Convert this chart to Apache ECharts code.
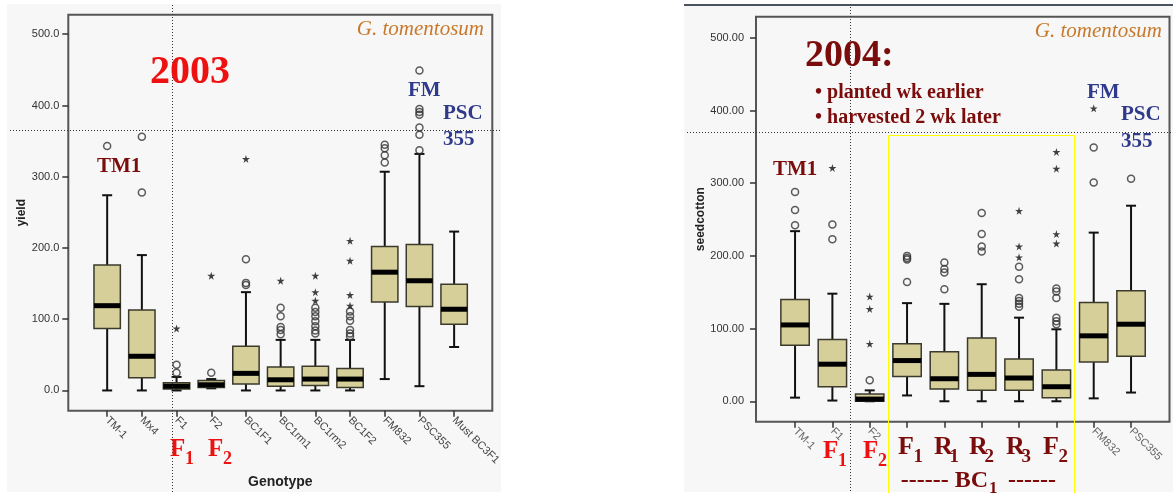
<!DOCTYPE html>
<html>
<head>
<meta charset="utf-8">
<script src="https://cdn.jsdelivr.net/npm/echarts@6/dist/echarts.min.js"></script>
<style>
  html, body { margin: 0; padding: 0; background: #fff; }
  #chart { width: 1173px; height: 493px; }
</style>
</head>
<body>
<div id="chart"></div>
<script>
// 2003 field, yield
var cats03 = ['TM-1', 'Mx4', 'F1', 'F2', 'BC1F1', 'BC1rm1', 'BC1rm2', 'BC1F2', 'FM832', 'PSC355', 'Must BC3F1'];
// [min, q1, median, q3, max]
var box03 = [
    [0, 87, 119, 176, 274],
    [0, 18, 48, 113, 190],
    [0, 2, 6, 11, 19],
    [3, 4, 8, 14, 16],
    [0, 9, 24, 62, 138],
    [0, 6, 15, 33, 71],
    [0, 7, 16, 34, 71],
    [0, 4, 16, 31, 71],
    [16, 124, 166, 202, 307],
    [6, 118, 154, 205, 332],
    [61, 93, 114, 149, 223]
];
var circles03 = [
    [0, 343], [1, 356], [1, 278], [2, 36], [2, 25], [3, 25],
    [4, 184], [4, 151], [4, 148],
    [5, 116], [5, 104], [5, 89], [5, 85], [5, 79],
    [6, 116], [6, 110], [6, 104], [6, 97], [6, 90], [6, 84], [6, 80],
    [7, 111], [7, 104], [7, 98], [7, 85], [7, 80], [7, 76],
    [8, 345], [8, 340], [8, 330], [8, 320],
    [9, 449], [9, 395], [9, 391], [9, 387], [9, 369], [9, 359], [9, 337]
];
var stars03 = [[2, 87], [3, 161], [4, 325], [5, 154], [6, 161], [6, 138], [6, 126], [7, 210], [7, 182], [7, 134], [7, 119]];

// 2004 field, seedcotton
var cats04 = ['TM-1', 'F1', 'F2', '', '', '', '', '', 'FM832', 'PSC355'];
var box04 = [
    [5, 77, 105, 140, 234],
    [1, 20, 51, 85, 148],
    [0, 0, 3, 10, 15],
    [8, 34, 56, 79, 135],
    [0, 17, 31, 68, 134],
    [0, 15, 37, 87, 161],
    [0, 15, 32, 58, 115],
    [0, 5, 20, 43, 99],
    [4, 54, 90, 136, 232],
    [12, 62, 106, 152, 269]
];
var circles04 = [
    [0, 288], [0, 263], [0, 242], [1, 243], [1, 223], [2, 29],
    [3, 200], [3, 197], [3, 195], [3, 164],
    [4, 191], [4, 182], [4, 177], [4, 154],
    [5, 259], [5, 230], [5, 213], [5, 206],
    [6, 185], [6, 168], [6, 142], [6, 138], [6, 134], [6, 130],
    [7, 155], [7, 151], [7, 142], [7, 115], [7, 110], [7, 106],
    [8, 349], [8, 301], [9, 306]
];
var stars04 = [[1, 321], [2, 144], [2, 127], [2, 79], [6, 262], [6, 213], [6, 198], [7, 343], [7, 320], [7, 230], [7, 217], [8, 403]];

var yTicks = [0, 100, 200, 300, 400, 500];
var starPath = 'path://M50,0 L61,35 L98,35 L68,57 L79,91 L50,70 L21,91 L32,57 L2,35 L39,35 Z';
var serif = '"Liberation Serif", "Times New Roman", serif';
var sans = '"Liberation Sans", Arial, sans-serif';
var darkRed = '#7b0c0c', navy = '#2f3a8a', red = '#ee1111', orange = '#c8782a';

function idx(list) {
    var out = [];
    for (var i = 0; i < list.length; i++) out.push(i);
    return out;
}

function boxData(stats) {
    var out = [];
    for (var i = 0; i < stats.length; i++) out.push([i].concat(stats[i]));
    return out;
}

function renderBox(params, api) {
    var x = api.value(0);
    var lo = api.coord([x, api.value(1)]);
    var q1 = api.coord([x, api.value(2)]);
    var md = api.coord([x, api.value(3)]);
    var q3 = api.coord([x, api.value(4)]);
    var hi = api.coord([x, api.value(5)]);
    var w = api.size([1, 0])[0] * 0.76;
    var cx = lo[0];
    var line = { stroke: '#111', lineWidth: 2 };
    return {
        type: 'group',
        children: [
            { type: 'line', shape: { x1: cx, y1: hi[1], x2: cx, y2: q3[1] }, style: line },
            { type: 'line', shape: { x1: cx, y1: q1[1], x2: cx, y2: lo[1] }, style: line },
            { type: 'line', shape: { x1: cx - 5, y1: hi[1], x2: cx + 5, y2: hi[1] }, style: line },
            { type: 'line', shape: { x1: cx - 5, y1: lo[1], x2: cx + 5, y2: lo[1] }, style: line },
            { type: 'rect', shape: { x: cx - w / 2, y: q3[1], width: w, height: Math.max(q1[1] - q3[1], 1) },
              style: { fill: '#d6cf99', stroke: '#3b3a2c', lineWidth: 1.5 } },
            { type: 'rect', shape: { x: cx - w / 2, y: md[1] - 2.5, width: w, height: 5 }, style: { fill: '#000' } }
        ]
    };
}

function xAxis(grid, cats, min, max, color, name) {
    return {
        gridIndex: grid, type: 'value', min: min, max: max,
        axisLine: { show: false, onZero: false }, splitLine: { show: false },
        axisTick: { show: true, customValues: idx(cats), length: 6, lineStyle: { color: '#333', width: 1.5 } },
        axisLabel: {
            customValues: idx(cats), rotate: -45, margin: 8, fontSize: 11, color: color, fontFamily: sans,
            formatter: function (v) { return cats[Math.round(v)]; }
        },
        name: name, nameLocation: 'middle', nameGap: 64,
        nameTextStyle: { fontSize: 14, fontWeight: 'bold', color: '#222', fontFamily: sans }
    };
}

function yAxis(grid, min, max, digits, margin, name, gap) {
    return {
        gridIndex: grid, type: 'value', min: min, max: max,
        axisLine: { show: false, onZero: false }, splitLine: { show: false },
        axisTick: { show: true, customValues: yTicks, length: 6, lineStyle: { color: '#333', width: 1.5 } },
        axisLabel: {
            customValues: yTicks, margin: margin, fontSize: 11, color: '#333', fontFamily: sans,
            formatter: function (v) { return v.toFixed(digits); }
        },
        name: name, nameLocation: 'middle', nameRotate: 90, nameGap: gap,
        nameTextStyle: { fontSize: 12, fontWeight: 'bold', color: '#222', fontFamily: sans }
    };
}

function txt(x, y, s, font, color, align) {
    return { type: 'text', x: x, y: y, z: 100,
        style: { text: s, font: font, fill: color, textAlign: align || 'left', textVerticalAlign: 'middle' } };
}

// letter with a subscript digit
function sub(x, y, main, s, color, size) {
    return [
        txt(x, y, main, 'bold ' + size + 'px ' + serif, color),
        txt(x + size * 0.6, y + size * 0.38, s, 'bold ' + Math.round(size * 0.72) + 'px ' + serif, color)
    ];
}

function dotted(x1, y1, x2, y2) {
    return { type: 'line', z: 100, shape: { x1: x1, y1: y1, x2: x2, y2: y2 },
        style: { stroke: '#333', lineWidth: 1, lineDash: [1, 2] } };
}

var graphics = [
    { type: 'rect', z: -10, shape: { x: 7, y: 4, width: 494, height: 488 }, style: { fill: '#f7f7f7' } },
    { type: 'rect', z: -10, shape: { x: 684, y: 4, width: 489, height: 488 }, style: { fill: '#f7f7f7' } },
    { type: 'line', z: 100, shape: { x1: 684, y1: 5, x2: 1173, y2: 5 }, style: { stroke: '#4b5260', lineWidth: 2 } },
    dotted(172.5, 5, 172.5, 493), dotted(10, 130.5, 500, 130.5),
    dotted(850.5, 7, 850.5, 493), dotted(687, 132.5, 1173, 132.5),
    { type: 'rect', z: 100, shape: { x: 888.5, y: 135.5, width: 186, height: 370 },
      style: { fill: 'none', stroke: '#ffff00', lineWidth: 1 } },

    txt(484, 29, 'G. tomentosum', 'italic 21px ' + serif, orange, 'right'),
    txt(190, 73, '2003', 'bold 40px ' + serif, red, 'center'),
    txt(97, 167, 'TM1', 'bold 21px ' + serif, darkRed),
    txt(408, 91, 'FM', 'bold 21px ' + serif, navy),
    txt(443, 114, 'PSC', 'bold 21px ' + serif, navy),
    txt(443, 140, '355', 'bold 21px ' + serif, navy),

    txt(1162, 31, 'G. tomentosum', 'italic 21px ' + serif, orange, 'right'),
    txt(805, 56, '2004:', 'bold 38px ' + serif, darkRed),
    txt(815, 93, '\u2022 planted wk earlier', 'bold 20px ' + serif, darkRed),
    txt(815, 118, '\u2022 harvested 2 wk later', 'bold 20px ' + serif, darkRed),
    txt(773, 170, 'TM1', 'bold 21px ' + serif, darkRed),
    txt(1087, 93, 'FM', 'bold 21px ' + serif, navy),
    txt(1121, 115, 'PSC', 'bold 21px ' + serif, navy),
    txt(1121, 142, '355', 'bold 21px ' + serif, navy),

    txt(988, 481, '------ BC', 'bold 24px ' + serif, darkRed, 'right'),
    txt(989, 489, '1', 'bold 17px ' + serif, darkRed),
    txt(1008, 481, '------', 'bold 24px ' + serif, darkRed)
]
    .concat(sub(170, 450, 'F', '1', red, 25))
    .concat(sub(208, 450, 'F', '2', red, 25))
    .concat(sub(823, 452, 'F', '1', red, 25))
    .concat(sub(863, 452, 'F', '2', red, 25))
    .concat(sub(898, 447, 'F', '1', darkRed, 26))
    .concat(sub(934, 447, 'R', '1', darkRed, 26))
    .concat(sub(969, 447, 'R', '2', darkRed, 26))
    .concat(sub(1006, 447, 'R', '3', darkRed, 26))
    .concat(sub(1043, 447, 'F', '2', darkRed, 26));

function outlierSeries(i, circles, stars) {
    return [
        { type: 'scatter', xAxisIndex: i, yAxisIndex: i, data: circles, symbol: 'circle', symbolSize: 7, z: 5,
          itemStyle: { color: 'transparent', borderColor: '#333', borderWidth: 1.5 } },
        { type: 'scatter', xAxisIndex: i, yAxisIndex: i, data: stars, symbol: starPath, symbolSize: 8, z: 5,
          itemStyle: { color: '#111' } }
    ];
}

var myChart = echarts.init(document.getElementById('chart'));
var option = {
    animation: false,
    backgroundColor: '#fff',
    grid: [
        { left: 68.3, top: 14.7, width: 424, height: 396, show: true, backgroundColor: 'transparent',
          borderColor: '#555', borderWidth: 2, outerBoundsMode: 'none' },
        { left: 756, top: 16.7, width: 413.5, height: 405, show: true, backgroundColor: 'transparent',
          borderColor: '#555', borderWidth: 2, outerBoundsMode: 'none' }
    ],
    xAxis: [
        xAxis(0, cats03, -1.12, 11.1, '#444', 'Genotype'),
        xAxis(1, cats04, -1.046, 10.03, '#666', '')
    ],
    yAxis: [
        yAxis(0, -28.4, 527.4, 1, 9, 'yield', 40),
        yAxis(1, -28.1, 529, 2, 12, 'seedcotton', 46)
    ],
    series: [
        { type: 'custom', xAxisIndex: 0, yAxisIndex: 0, data: boxData(box03), renderItem: renderBox,
          encode: { x: 0, y: [1, 2, 3, 4, 5] } },
        { type: 'custom', xAxisIndex: 1, yAxisIndex: 1, data: boxData(box04), renderItem: renderBox,
          encode: { x: 0, y: [1, 2, 3, 4, 5] } }
    ].concat(outlierSeries(0, circles03, stars03)).concat(outlierSeries(1, circles04, stars04)),
    graphic: graphics
};
myChart.setOption(option);
</script>
</body>
</html>
